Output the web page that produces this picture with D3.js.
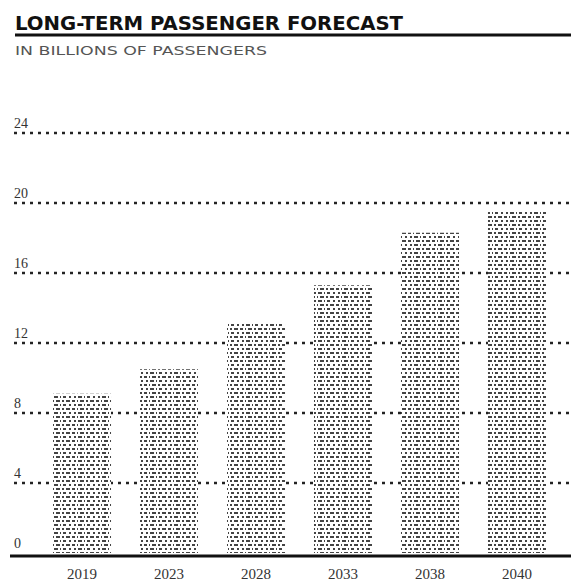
<!DOCTYPE html>
<html>
<head>
<meta charset="utf-8">
<script src="https://cdn.jsdelivr.net/npm/d3@7"></script>
<style>
  html, body { margin: 0; padding: 0; background: #fff; }
  svg { display: block; }
</style>
</head>
<body>
<div id="chart"></div>
<script>
const categories = ["2019", "2023", "2028", "2033", "2038", "2040"];
const values = [9.1, 10.5, 13.2, 15.3, 18.3, 19.5];
const yTicks = [0, 4, 8, 12, 16, 20, 24];
const yTickLabels = ["0", "4", "8", "12", "16", "20", "24"];
const titleText = "LONG-TERM PASSENGER FORECAST";
const subtitleText = "IN BILLIONS OF PASSENGERS";

const W = 571, H = 586;
const svg = d3.select("#chart").append("svg").attr("width", W).attr("height", H);

// stipple pattern for bars
const defs = svg.append("defs");
const pat = defs.append("pattern").attr("id", "stipple")
  .attr("patternUnits", "userSpaceOnUse").attr("width", 24).attr("height", 8);
pat.append("rect").attr("width", 24).attr("height", 8).attr("fill", "#fff");
const marks = [
  [0,0,3],[5,0,1],[8,0,4],[14,0,2],[18,0,4],
  [2,4,2],[6,4,4],[12,4,1],[15,4,3],[21,4,2]
];
pat.selectAll("rect.m").data(marks).join("rect").attr("class", "m")
  .attr("x", d => d[0]).attr("y", d => d[1]).attr("width", d => d[2]).attr("height", 2)
  .attr("fill", "#444");

// title
svg.append("text").attr("x", 15).attr("y", 30)
  .attr("font-family", "DejaVu Sans").attr("font-weight", "bold").attr("font-size", 20)
  .attr("textLength", 388).attr("lengthAdjust", "spacingAndGlyphs")
  .attr("fill", "#111").text(titleText);
svg.append("line").attr("x1", 15).attr("x2", W).attr("y1", 35).attr("y2", 35)
  .attr("stroke", "#111").attr("stroke-width", 3);
svg.append("text").attr("x", 15).attr("y", 55)
  .attr("font-family", "DejaVu Sans").attr("font-size", 13)
  .attr("textLength", 252).attr("lengthAdjust", "spacingAndGlyphs")
  .attr("fill", "#555").text(subtitleText);

// scales
const x = d3.scaleBand().domain(categories).range([35.6, 563.4])
  .paddingInner(0.333).paddingOuter(0.2);
const y = d3.scaleLinear().domain([0, 24]).range([553, 133]);

// gridlines
const grid = svg.append("g");
grid.selectAll("line").data(yTicks.filter(d => d > 0)).join("line")
  .attr("x1", 14).attr("x2", W)
  .attr("y1", d => y(d)).attr("y2", d => y(d))
  .attr("stroke", "#222").attr("stroke-width", 2.5).attr("stroke-dasharray", "3,5");

// y labels
svg.append("g").selectAll("text").data(yTicks).join("text")
  .attr("x", 14).attr("y", d => y(d) - 5)
  .attr("font-family", "Liberation Serif").attr("font-size", 14)
  .attr("fill", "#333").text((d, i) => yTickLabels[i]);

// bars
svg.append("g").selectAll("rect").data(values).join("rect")
  .attr("x", (d, i) => x(categories[i])).attr("width", x.bandwidth())
  .attr("y", d => y(d)).attr("height", d => y(0) - y(d))
  .attr("fill", "url(#stipple)");

// baseline axis
const xAxis = d3.axisBottom(x).tickSize(0).tickPadding(12);
const gx = svg.append("g").attr("transform", `translate(0,${y(0) + 3})`).call(xAxis);
gx.select(".domain").remove();
gx.append("line").attr("x1", 10).attr("x2", W).attr("y1", 0).attr("y2", 0)
  .attr("stroke", "#111").attr("stroke-width", 3);
gx.selectAll(".tick text").attr("font-family", "Liberation Serif").attr("font-size", 15)
  .attr("fill", "#333");
</script>
</body>
</html>
